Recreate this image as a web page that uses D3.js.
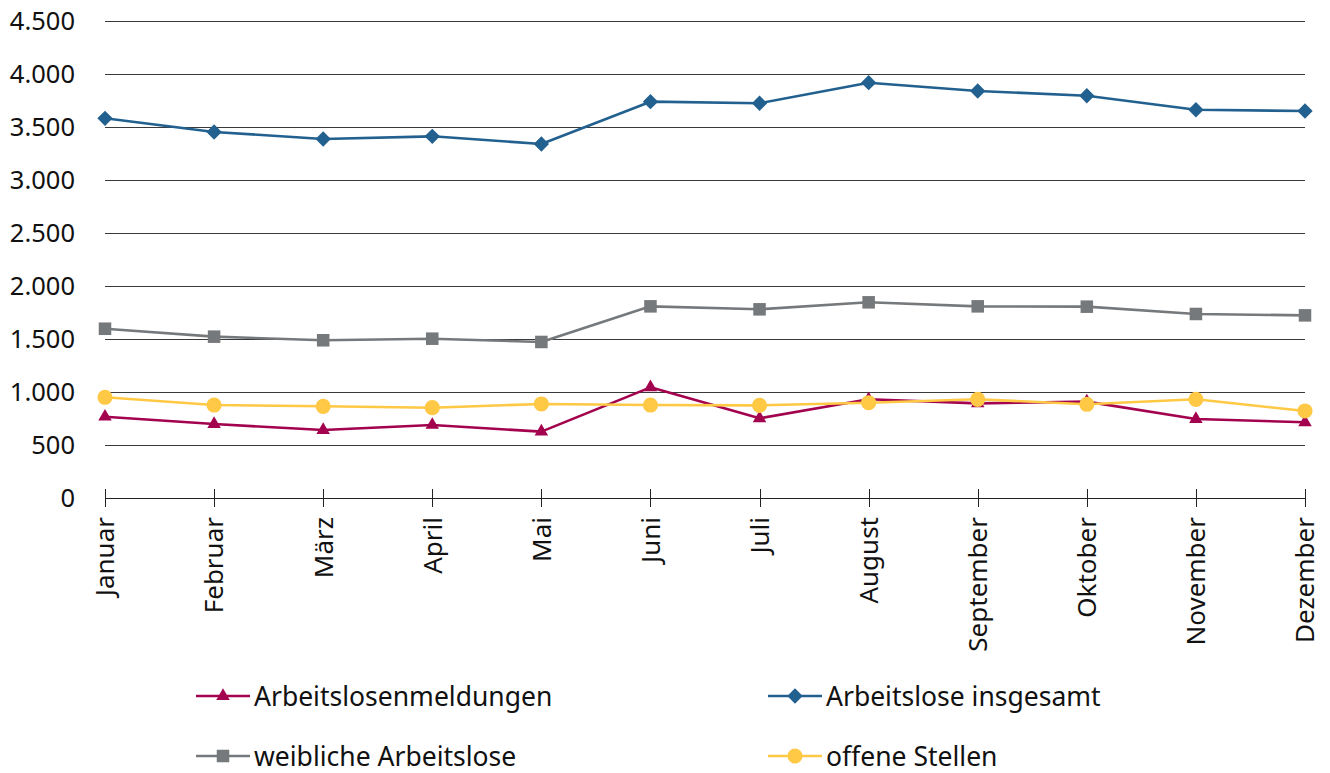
<!DOCTYPE html>
<html><head><meta charset="utf-8">
<script src="https://cdn.jsdelivr.net/npm/d3@7"></script>
<style>body{margin:0;background:#fff}svg{display:block;font-family:"Noto Sans",sans-serif}</style>
</head><body><svg id="c" width="1330" height="773"></svg>
<script>
const months = ["Januar","Februar","März","April","Mai","Juni","Juli","August","September","Oktober","November","Dezember"];
const yTicks = [0,500,1000,1500,2000,2500,3000,3500,4000,4500];
const arbeitslosenmeldungen = [767,698,641,689,626,1044,752,931,893,909,745,714];
const arbeitsloseInsgesamt = [3582,3453,3387,3412,3340,3739,3724,3918,3840,3795,3663,3651];
const weiblicheArbeitslose = [1597,1522,1488,1503,1472,1808,1780,1846,1808,1805,1736,1723];
const offeneStellen = [950,877,865,852,887,877,874,899,931,884,931,821];
const seriesNames = ["Arbeitslosenmeldungen","Arbeitslose insgesamt","weibliche Arbeitslose","offene Stellen"];

const series = [
  {name: seriesNames[1], values: arbeitsloseInsgesamt, color: "#22608f", sym: d3.symbolDiamond2, size: 150, leg: {col:1,row:0}},
  {name: seriesNames[2], values: weiblicheArbeitslose, color: "#76797c", sym: d3.symbolSquare2, size: 200, leg: {col:0,row:1}},
  {name: seriesNames[0], values: arbeitslosenmeldungen, color: "#a2024e", sym: d3.symbolTriangle2, size: 130, leg: {col:0,row:0}},
  {name: seriesNames[3], values: offeneStellen, color: "#ffc845", sym: d3.symbolCircle, size: 180, leg: {col:1,row:1}}
];

const svg = d3.select("#c");
const x = d3.scalePoint().domain(months).range([105, 1305]).padding(0);
const y = d3.scaleLinear().domain([0, 4500]).range([498, 21]);

// gridlines
svg.append("g").selectAll("line").data(yTicks.filter(d => d > 0)).join("line")
  .attr("x1", 105).attr("x2", 1305)
  .attr("y1", d => Math.round(y(d)) + 0.5).attr("y2", d => Math.round(y(d)) + 0.5)
  .attr("stroke", "#3a3a3a").attr("stroke-width", 1);

// y labels
svg.append("g").selectAll("text").data(yTicks).join("text")
  .attr("x", 75).attr("y", d => y(d)).attr("dy", "0.36em")
  .attr("text-anchor", "end").attr("font-size", 25.5).attr("fill", "#111")
  .text(d => d3.format(",")(d).replace(/,/g, "."));

// x axis
const xa = svg.append("g");
xa.append("line").attr("x1", 105).attr("x2", 1305).attr("y1", 498.5).attr("y2", 498.5).attr("stroke", "#222").attr("stroke-width", 1);
xa.selectAll("line.t").data(months).join("line").attr("class", "t")
  .attr("x1", d => Math.round(x(d)) + 0.5).attr("x2", d => Math.round(x(d)) + 0.5)
  .attr("y1", 489).attr("y2", 507).attr("stroke", "#222").attr("stroke-width", 1);
xa.selectAll("text").data(months).join("text")
  .attr("transform", d => `translate(${x(d)},517) rotate(-90)`)
  .attr("text-anchor", "end").attr("dy", "0.36em")
  .attr("font-size", 26).attr("fill", "#111").text(d => d);

// series
const line = d3.line().x((d, i) => x(months[i])).y(d => y(d));
series.forEach(s => {
  const g = svg.append("g");
  g.append("path").datum(s.values).attr("d", line).attr("fill", "none")
    .attr("stroke", s.color).attr("stroke-width", 2.6).attr("stroke-linejoin", "round");
  g.selectAll("path.m").data(s.values).join("path").attr("class", "m")
    .attr("transform", (d, i) => `translate(${x(months[i])},${y(d)})`)
    .attr("d", d3.symbol().type(s.sym).size(s.size)).attr("fill", s.color);
});

// legend
const legX = [196, 768], legY = [696, 756];
const legOrder = [series[2], series[0], series[1], series[3]];
legOrder.forEach(s => {
  const lx = legX[s.leg.col], ly = legY[s.leg.row];
  const g = svg.append("g").attr("transform", `translate(${lx},${ly})`);
  g.append("line").attr("x1", 0).attr("x2", 54).attr("y1", 0).attr("y2", 0)
    .attr("stroke", s.color).attr("stroke-width", 2.6);
  g.append("path").attr("transform", "translate(27,0)")
    .attr("d", d3.symbol().type(s.sym).size(s.size)).attr("fill", s.color);
  g.append("text").attr("x", 58).attr("y", 0).attr("dy", "0.36em")
    .attr("font-size", 26.5).attr("fill", "#111").text(s.name);
});
</script></body></html>
